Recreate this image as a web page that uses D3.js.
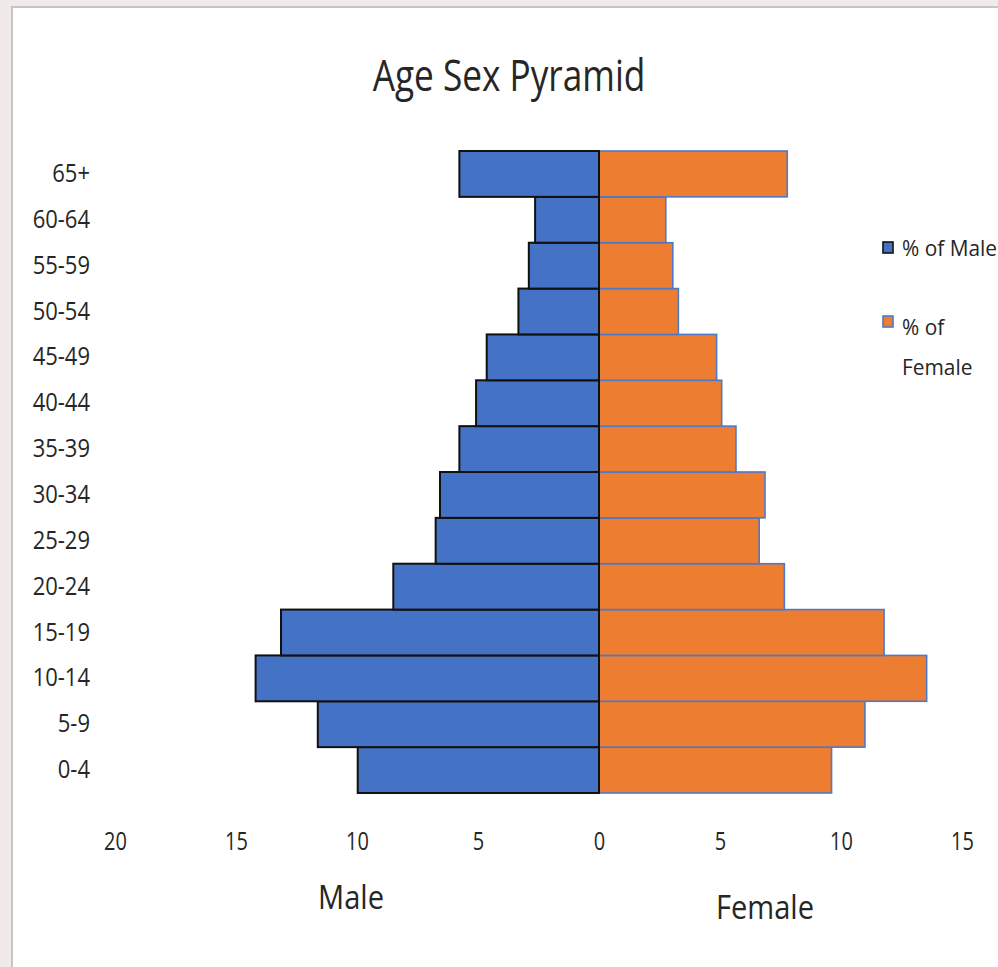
<!DOCTYPE html>
<html>
<head>
<meta charset="utf-8">
<script src="https://cdn.jsdelivr.net/npm/d3@7"></script>
<style>
  html, body { margin: 0; padding: 0; background: #f2eaea; }
  svg { display: block; }
  text { font-family: "Open Sans", sans-serif; fill: #262626; font-weight: 500; }
</style>
</head>
<body>
<svg id="chart" width="998" height="967"></svg>
<script>
// ---- data ----
const ageGroups = ["0-4","5-9","10-14","15-19","20-24","25-29","30-34","35-39","40-44","45-49","50-54","55-59","60-64","65+"];
const malePct   = [9.97, 11.62, 14.19, 13.14, 8.5, 6.75, 6.57, 5.77, 5.08, 4.64, 3.33, 2.9, 2.64, 5.77];
const femalePct = [9.61, 10.99, 13.54, 11.78, 7.66, 6.62, 6.86, 5.66, 5.07, 4.86, 3.28, 3.05, 2.76, 7.78];
const xTicks = [-20, -15, -10, -5, 0, 5, 10, 15];
const seriesNames = ["% of Male", "% of Female"];
const title = "Age Sex Pyramid";
const maleLabel = "Male", femaleLabel = "Female";

const svg = d3.select("#chart");
const W = 998, H = 967;

// panel
svg.append("rect").attr("x", 12).attr("y", 7).attr("width", W).attr("height", H)
  .attr("fill", "#ffffff").attr("stroke", "#c9c4c4").attr("stroke-width", 2);

const x = d3.scaleLinear().domain([-20, 15]).range([115, 962]);
const y = d3.scaleBand().domain(ageGroups.slice().reverse()).range([151, 793]).padding(0);

const rows = ageGroups.map((g, i) => ({ g, m: malePct[i], f: femalePct[i] }));

// female bars
svg.append("g").selectAll("rect").data(rows).join("rect")
  .attr("x", x(0)).attr("y", d => y(d.g))
  .attr("width", d => x(d.f) - x(0)).attr("height", y.bandwidth())
  .attr("fill", "#ED7D31").attr("stroke", "#4f78c8").attr("stroke-width", 1.6);

// male bars
svg.append("g").selectAll("rect").data(rows).join("rect")
  .attr("x", d => x(-d.m)).attr("y", d => y(d.g))
  .attr("width", d => x(0) - x(-d.m)).attr("height", y.bandwidth())
  .attr("fill", "#4472C4").attr("stroke", "#111111").attr("stroke-width", 2);

// x axis
const xAxis = svg.append("g").attr("transform", "translate(0,829)")
  .call(d3.axisBottom(x).tickValues(xTicks).tickFormat(d => Math.abs(d)).tickSize(0).tickPadding(3));
xAxis.select(".domain").remove();
xAxis.selectAll("text").style("font-size", "25px").attr("fill", "#262626")
  .attr("transform", "scale(0.8,1)");

// y axis
const yAxis = svg.append("g").attr("transform", "translate(90,0)")
  .call(d3.axisLeft(y).tickSize(0).tickPadding(0));
yAxis.select(".domain").remove();
yAxis.selectAll("text").style("font-size", "25px").attr("fill", "#262626")
  .attr("x", 0).attr("transform", "scale(0.88,1)");

// title
svg.append("text").attr("transform", "translate(509,91) scale(0.8,1)")
  .attr("text-anchor", "middle").style("font-size", "44px").text(title);

// axis titles
svg.append("text").attr("transform", "translate(351,909) scale(0.88,1)")
  .attr("text-anchor", "middle").style("font-size", "33px").text(maleLabel);
svg.append("text").attr("transform", "translate(765,919) scale(0.88,1)")
  .attr("text-anchor", "middle").style("font-size", "33px").text(femaleLabel);

// legend
const leg = svg.append("g");
leg.append("rect").attr("x", 883).attr("y", 242).attr("width", 10).attr("height", 11)
  .attr("fill", "#4472C4").attr("stroke", "#111").attr("stroke-width", 1.6);
leg.append("text").attr("transform", "translate(902,256) scale(0.95,1)")
  .style("font-size", "22px").text(seriesNames[0]);
leg.append("rect").attr("x", 883).attr("y", 316).attr("width", 10).attr("height", 11)
  .attr("fill", "#ED7D31").attr("stroke", "#4f78c8").attr("stroke-width", 1.6);
const ft = seriesNames[1].split(" ");
leg.append("text").attr("transform", "translate(902,335) scale(0.95,1)")
  .style("font-size", "22px").text(ft.slice(0, 2).join(" "));
leg.append("text").attr("transform", "translate(902,375) scale(0.95,1)")
  .style("font-size", "22px").text(ft.slice(2).join(" "));
</script>
</body>
</html>
